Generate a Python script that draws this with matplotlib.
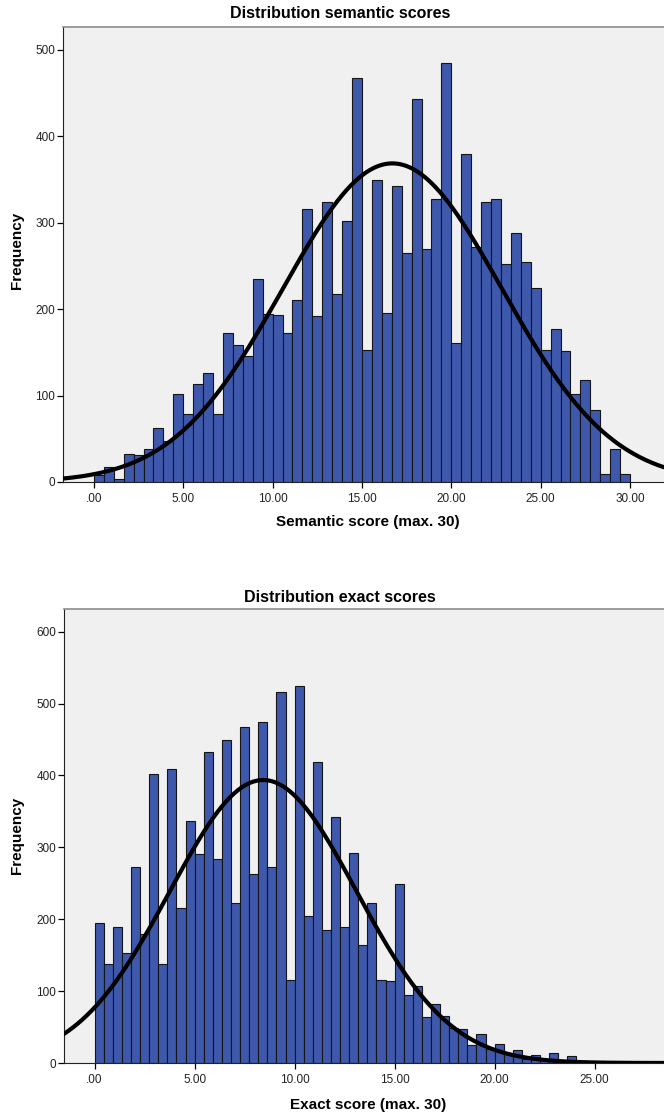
import numpy as np
import matplotlib.pyplot as plt

plt.rcParams['font.family'] = ['Liberation Sans', 'DejaVu Sans']

# histogram counts per bin (bins start at 0)
sem_counts = [8, 17, 4, 32, 31, 38, 62, 48, 102, 79,
              114, 126, 79, 172, 158, 146, 235, 194, 193, 173,
              211, 316, 192, 324, 218, 302, 467, 153, 350, 196,
              343, 265, 443, 270, 328, 485, 161, 380, 272, 324,
              328, 252, 288, 255, 224, 153, 177, 152, 102, 118,
              83, 9, 38, 9]
exact_counts = [195, 138, 189, 153, 272, 179, 402, 138, 409, 216,
                337, 291, 433, 284, 449, 222, 468, 263, 475, 273,
                516, 115, 524, 205, 418, 185, 342, 189, 292, 164,
                222, 116, 114, 249, 94, 107, 64, 82, 66, 48,
                47, 25, 40, 20, 26, 13, 18, 6, 11, 5,
                14, 4, 10]
sem_width = 5 / 9
exact_width = 5 / 11

# summary stats for the fitted normal curves
sem_mean, sem_sd = 16.7, 6.13
exact_mean, exact_sd = 8.43, 4.67

sem_xticks = [0, 5, 10, 15, 20, 25, 30]
sem_xlabels = ['.00', '5.00', '10.00', '15.00', '20.00', '25.00', '30.00']
exact_xticks = [0, 5, 10, 15, 20, 25]
exact_xlabels = ['.00', '5.00', '10.00', '15.00', '20.00', '25.00']
sem_yticks = [0, 100, 200, 300, 400, 500]
exact_yticks = [0, 100, 200, 300, 400, 500, 600]

W, H = 664, 1117
fig = plt.figure(figsize=(W / 100, H / 100), dpi=100)

BAR = '#3e58ac'
BG = '#f0f0f0'


def px_axes(left, top, right, bottom):
    return fig.add_axes([left / W, 1 - bottom / H, (right - left) / W, (bottom - top) / H])


def draw_hist(ax, counts, width, mean, sd, xlim, ylim, xticks, xlabels, yticks):
    counts = np.array(counts)
    edges = np.arange(len(counts)) * width
    ax.set_facecolor(BG)
    ax.bar(edges, counts, width=width, align='edge', color=BAR,
           edgecolor='#151515', linewidth=0.8, zorder=2)
    n = counts.sum()
    xs = np.linspace(xlim[0], xlim[1], 400)
    ys = n * width / (sd * np.sqrt(2 * np.pi)) * np.exp(-0.5 * ((xs - mean) / sd) ** 2)
    ax.plot(xs, ys, color='black', linewidth=3.0, zorder=3, solid_capstyle='round')
    ax.set_xlim(xlim)
    ax.set_ylim(ylim)
    ax.set_xticks(xticks)
    ax.set_xticklabels(xlabels)
    ax.set_yticks(yticks)
    ax.tick_params(axis='both', direction='out', length=4, width=0.9, labelsize=8.5,
                   pad=1.5, labelcolor='#222222')
    ax.tick_params(axis='x', pad=4)
    ax.spines['right'].set_visible(False)
    ax.spines['top'].set_color('#8c8c8c')
    ax.spines['top'].set_linewidth(1.2)
    ax.spines['left'].set_color('#222222')
    ax.spines['bottom'].set_color('#222222')


ax1 = px_axes(63, 27, 664, 482)
draw_hist(ax1, sem_counts, sem_width, sem_mean, sem_sd, (-1.73, 31.9), (0, 526.6),
          sem_xticks, sem_xlabels, sem_yticks)
fig.text(340 / W, 1 - 14 / H, 'Distribution semantic scores', ha='center', va='center',
         fontsize=11.5, fontweight='bold')
fig.text(368 / W, 1 - 522 / H, 'Semantic score (max. 30)', ha='center', va='center',
         fontsize=11, fontweight='bold')
fig.text(17 / W, 1 - 250 / H, 'Frequency', ha='center', va='center', rotation=90,
         fontsize=11, fontweight='bold')

ax2 = px_axes(64, 609, 664, 1063)
draw_hist(ax2, exact_counts, exact_width, exact_mean, exact_sd, (-1.53, 28.47), (0, 631.5),
          exact_xticks, exact_xlabels, exact_yticks)
fig.text(340 / W, 1 - 597 / H, 'Distribution exact scores', ha='center', va='center',
         fontsize=11.5, fontweight='bold')
fig.text(368 / W, 1 - 1105 / H, 'Exact score (max. 30)', ha='center', va='center',
         fontsize=11, fontweight='bold')
fig.text(17 / W, 1 - 835 / H, 'Frequency', ha='center', va='center', rotation=90,
         fontsize=11, fontweight='bold')

fig.savefig('out.png', dpi=100, facecolor='white')
